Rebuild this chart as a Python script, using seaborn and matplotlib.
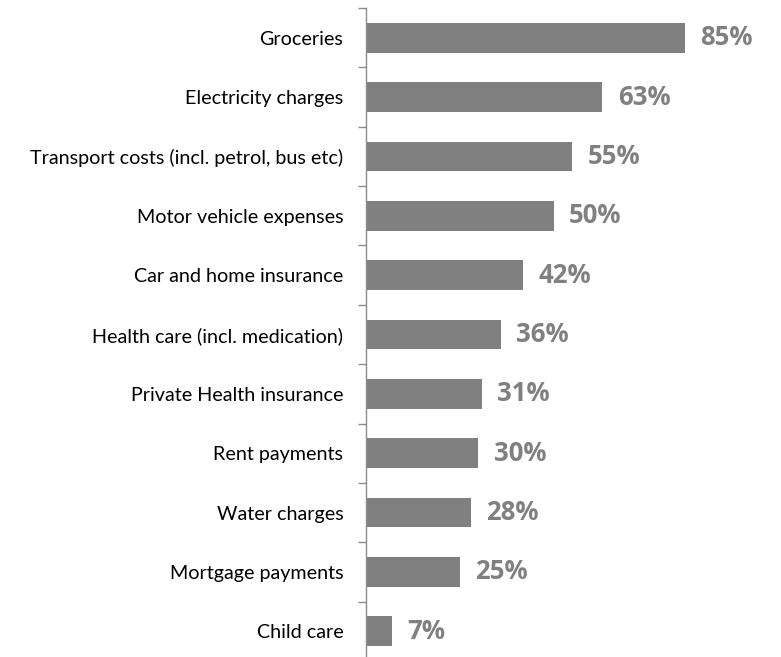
import matplotlib
matplotlib.use("Agg")
import matplotlib.pyplot as plt
import seaborn as sns
import pandas as pd

categories = [
    "Groceries",
    "Electricity charges",
    "Transport costs (incl. petrol, bus etc)",
    "Motor vehicle expenses",
    "Car and home insurance",
    "Health care (incl. medication)",
    "Private Health insurance",
    "Rent payments",
    "Water charges",
    "Mortgage payments",
    "Child care",
]
shares = [85, 63, 55, 50, 42, 36, 31, 30, 28, 25, 7]

df = pd.DataFrame({"item": categories, "share": shares})

sns.set_theme(style="white")
plt.rcParams["font.family"] = ["Lato", "DejaVu Sans"]

W, H = 781, 657
fig = plt.figure(figsize=(W / 100, H / 100), dpi=100)
left = 365.7 / W
right = (365.7 + 375.7) / W
top_px, bottom_px = 8, 661
ax = fig.add_axes([left, 1 - bottom_px / H, right - left, (bottom_px - top_px) / H])

sns.barplot(data=df, x="share", y="item", orient="h", color="#808080",
            width=0.5, saturation=1, ax=ax, edgecolor="none")

ax.set_xlim(0, 100)
ax.set_ylim(len(categories) - 0.5, -0.5)
ax.set_xlabel("")
ax.set_ylabel("")
ax.set_xticks([])

for s in ["top", "right", "bottom"]:
    ax.spines[s].set_visible(False)
ax.spines["left"].set_color("#8c8c8c")
ax.spines["left"].set_linewidth(1.0)

ax.set_yticks(range(len(categories)))
ax.set_yticklabels(categories, fontsize=14.2, color="#000000")
ax.tick_params(axis="y", which="major", length=0, pad=16)
ax.set_yticks([i - 0.5 for i in range(len(categories) + 1)], minor=True)
ax.tick_params(axis="y", which="minor", length=6, width=1.0, color="#8c8c8c", left=True)

for cont in ax.containers:
    ax.bar_label(cont, labels=[f"{v}%" for v in shares], padding=11,
                 fontsize=18.5, fontweight="bold", color="#808080",
                 family=["Open Sans", "DejaVu Sans"])

fig.savefig("out.png", dpi=100)
